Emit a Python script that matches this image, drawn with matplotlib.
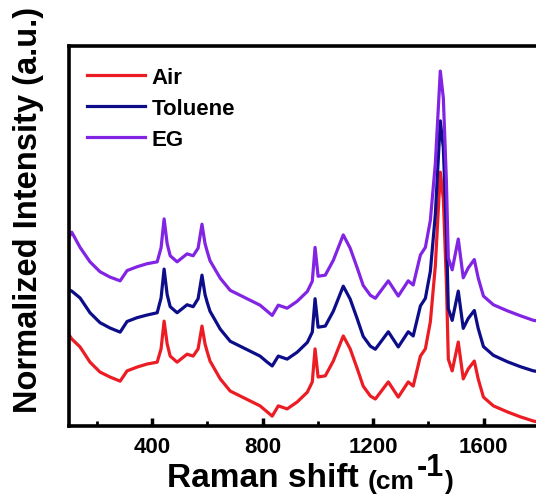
import matplotlib
matplotlib.use("Agg")
import matplotlib.pyplot as plt

plt.rcParams['font.family'] = ['Liberation Sans', 'DejaVu Sans']
plt.rcParams['font.weight'] = 'bold'

# Raman shift (cm-1) and intensities
shift = [100, 110, 140, 176, 212, 248, 285, 310, 346, 382, 419, 433, 444, 455, 466,
         491, 527, 549, 567, 581, 592, 600, 610, 647, 683, 719, 755, 791, 817, 835,
         857, 889, 925, 962, 980, 990, 1001, 1027, 1056, 1092, 1117, 1143, 1164, 1190,
         1208, 1255, 1291, 1327, 1345, 1371, 1389, 1407, 1425, 1443, 1454, 1465, 1472,
         1486, 1508, 1526, 1544, 1566, 1580, 1599, 1635, 1686, 1733, 1780, 1800]

air = [0.240, 0.229, 0.208, 0.168, 0.142, 0.129, 0.118, 0.145, 0.155, 0.163, 0.168,
       0.203, 0.276, 0.216, 0.184, 0.168, 0.189, 0.184, 0.203, 0.263, 0.216, 0.195,
       0.171, 0.124, 0.092, 0.079, 0.066, 0.053, 0.037, 0.026, 0.053, 0.045, 0.063,
       0.089, 0.116, 0.203, 0.129, 0.132, 0.171, 0.237, 0.203, 0.150, 0.105, 0.079,
       0.071, 0.116, 0.076, 0.116, 0.105, 0.184, 0.203, 0.274, 0.421, 0.668, 0.597,
       0.379, 0.176, 0.145, 0.221, 0.124, 0.150, 0.171, 0.124, 0.076, 0.053, 0.037,
       0.024, 0.013, 0.010]

toluene = [0.226, 0.223, 0.205, 0.166, 0.140, 0.126, 0.115, 0.143, 0.153, 0.160, 0.166,
           0.205, 0.281, 0.214, 0.182, 0.166, 0.187, 0.182, 0.203, 0.265, 0.214, 0.193,
           0.170, 0.123, 0.091, 0.078, 0.065, 0.052, 0.036, 0.026, 0.052, 0.044, 0.062,
           0.088, 0.115, 0.203, 0.128, 0.131, 0.170, 0.236, 0.202, 0.149, 0.104, 0.078,
           0.070, 0.116, 0.076, 0.116, 0.105, 0.184, 0.204, 0.275, 0.424, 0.671, 0.600,
           0.381, 0.177, 0.146, 0.223, 0.125, 0.151, 0.172, 0.125, 0.077, 0.054, 0.037,
           0.024, 0.013, 0.011]

eg = [0.232, 0.245, 0.205, 0.167, 0.141, 0.127, 0.117, 0.144, 0.154, 0.162, 0.167,
      0.204, 0.280, 0.215, 0.183, 0.167, 0.188, 0.183, 0.203, 0.266, 0.215, 0.194,
      0.170, 0.124, 0.092, 0.079, 0.066, 0.053, 0.037, 0.026, 0.053, 0.045, 0.063,
      0.089, 0.116, 0.205, 0.129, 0.132, 0.171, 0.238, 0.203, 0.150, 0.105, 0.079,
      0.071, 0.117, 0.077, 0.117, 0.106, 0.185, 0.205, 0.276, 0.425, 0.669, 0.598,
      0.380, 0.177, 0.146, 0.227, 0.125, 0.151, 0.173, 0.125, 0.077, 0.054, 0.038,
      0.025, 0.013, 0.011]

labels = ['Air', 'Toluene', 'EG']
offsets = [0.0, 0.132, 0.265]
colors = ['#ec1c24', '#0d0d8a', '#8224e3']

fig = plt.figure(figsize=(5.36, 5.02), dpi=100)
ax = fig.add_axes([69 / 536, 75 / 502, 470 / 536, 380 / 502])

for ys, off, c, lab in zip([air, toluene, eg], offsets, colors, labels):
    ax.plot(shift, [v + off for v in ys], color=c, lw=2.3, label=lab)

ax.set_xlim(100, 1800)
ax.set_ylim(0, 1)
ax.set_xticks([400, 800, 1200, 1600])
ax.set_xticks([200, 600, 1000, 1400], minor=True)
ax.set_yticks([])
ax.tick_params(axis='x', which='major', direction='in', length=6, width=2.5,
               labelsize=16, pad=7)
ax.tick_params(axis='x', which='minor', direction='in', length=3.5, width=2)
for s in ax.spines.values():
    s.set_linewidth(2.6)

ax.legend(loc='upper left', bbox_to_anchor=(0.019, 0.968), frameon=False,
          fontsize=16, handlelength=2.6, handletextpad=0.3, labelspacing=0.45,
          borderaxespad=0.0)

fig.text(37 / 536, 1 - 210 / 502, 'Normalized Intensity (a.u.)', rotation=90,
         rotation_mode='anchor', ha='center', va='baseline', fontsize=23.5,
         fontweight='bold')

t1 = fig.text(167 / 536, 1 - 487 / 502, 'Raman shift ', fontsize=24,
              fontweight='bold', va='baseline')
t2 = ax.annotate('(cm', xy=(1, 0), xycoords=t1, fontsize=19, fontweight='bold',
                 va='bottom', annotation_clip=False)
t3 = ax.annotate('-1', xy=(1, 0), xycoords=t2, xytext=(1, 8),
                 textcoords='offset points', fontsize=22, fontweight='bold',
                 va='bottom', annotation_clip=False)
ax.annotate(')', xy=(1, 0), xycoords=t3, xytext=(1, -8),
            textcoords='offset points', fontsize=19, fontweight='bold',
            va='bottom', annotation_clip=False)

fig.savefig('out.png', dpi=100)
